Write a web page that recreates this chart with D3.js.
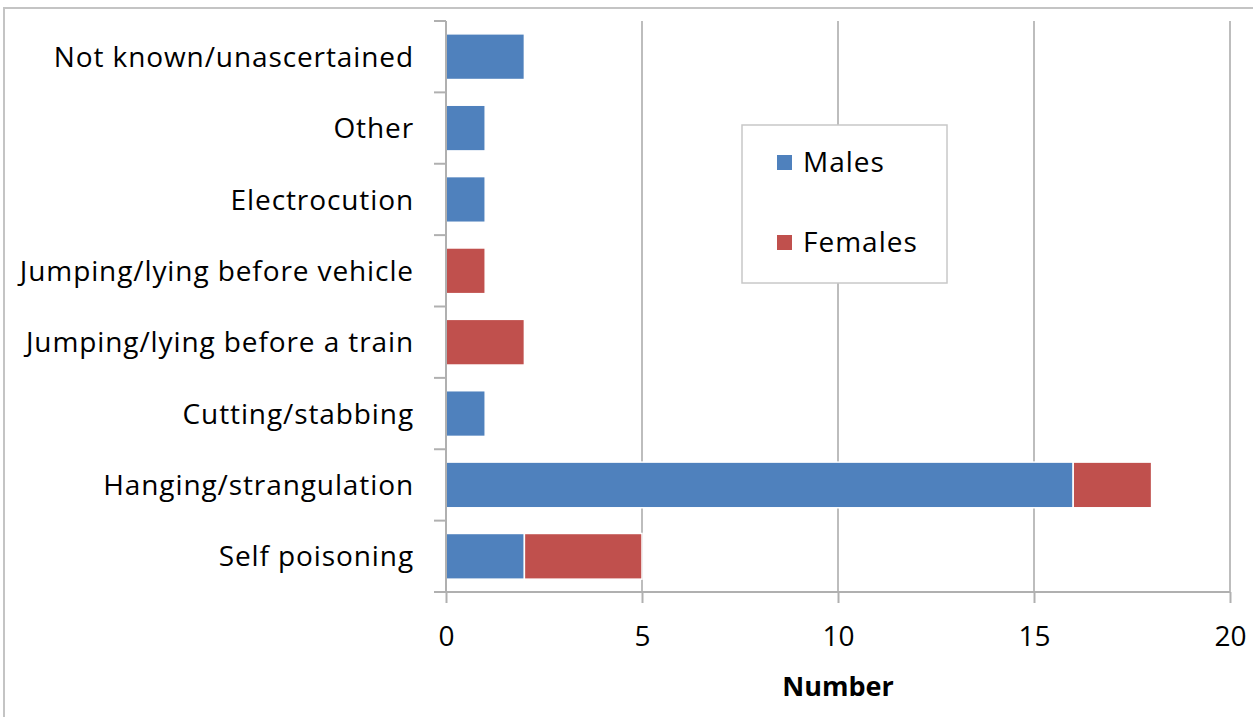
<!DOCTYPE html>
<meta charset="utf-8">
<head>
<style>
body { margin: 0; background: #fff; }
text { font-family: "Open Sans", sans-serif; fill: #000; }
.grid line { stroke: #bdbdbd; stroke-width: 2px; }
.axis path, .axis line { stroke: #b0b0b0; stroke-width: 2px; }
</style>
</head>
<body>
<svg></svg>
<script src="https://d3js.org/d3.v7.min.js"></script>
<script>
// data
var categories = ["Not known/unascertained", "Other", "Electrocution", "Jumping/lying before vehicle",
  "Jumping/lying before a train", "Cutting/stabbing", "Hanging/strangulation", "Self poisoning"];
var males   = [2, 1, 1, 0, 0, 1, 16, 2];
var females = [0, 0, 0, 1, 2, 0, 2, 3];
var seriesNames = ["Males", "Females"];
var seriesColors = ["#4f81bd", "#c0504d"];
var xTicks = [0, 5, 10, 15, 20];

var W = 1253, H = 717;
var margin = { top: 21, left: 446, right: 23, bottom: 125 };

var svg = d3.select('svg').attr('width', W).attr('height', H);

// outer chart frame
svg.append('rect')
  .attr('x', 4).attr('y', 8).attr('width', W + 10).attr('height', H + 10)
  .attr('fill', 'none').attr('stroke', '#c4c4c4').attr('stroke-width', 2);

var x = d3.scaleLinear().domain([0, 20]).range([margin.left, W - margin.right]);
var y = d3.scaleBand().domain(categories).range([margin.top, H - margin.bottom]).paddingInner(0.36).paddingOuter(0.18);

var rows = categories.map(function (c, i) { return { cat: c, Males: males[i], Females: females[i] }; });
var stacked = d3.stack().keys(seriesNames)(rows);

// gridlines
svg.append('g').attr('class', 'grid')
  .selectAll('line').data(xTicks.slice(1))
  .enter().append('line')
  .attr('x1', function (d) { return x(d); }).attr('x2', function (d) { return x(d); })
  .attr('y1', margin.top).attr('y2', H - margin.bottom);

// bars
svg.append('g').selectAll('g').data(stacked).enter().append('g')
  .attr('fill', function (d, i) { return seriesColors[i]; })
  .selectAll('rect').data(function (d) { return d.filter(function (s) { return s[1] > s[0]; }); })
  .enter().append('rect')
  .attr('x', function (d) { return x(d[0]); })
  .attr('y', function (d) { return y(d.data.cat); })
  .attr('width', function (d) { return x(d[1]) - x(d[0]); })
  .attr('height', y.bandwidth())
  .attr('stroke', '#fff').attr('stroke-width', 1.5);

// y axis (category separators)
var yAxis = svg.append('g').attr('class', 'axis').attr('transform', 'translate(' + margin.left + ',0)');
yAxis.append('line').attr('y1', margin.top).attr('y2', H - margin.bottom);
var bounds = categories.map(function (c) { return y(c) - y.step() * y.paddingInner() / 2; });
bounds.push(H - margin.bottom);
yAxis.selectAll('line.tk').data(bounds).enter().append('line').attr('class', 'tk')
  .attr('x1', -12).attr('x2', 0).attr('y1', function (d) { return d; }).attr('y2', function (d) { return d; });
yAxis.selectAll('text').data(categories).enter().append('text')
  .attr('x', -32).attr('y', function (d) { return y(d) + y.bandwidth() / 2; })
  .attr('dy', '0.36em').attr('text-anchor', 'end')
  .style('font-size', '28px').style('letter-spacing', '0.9px')
  .text(function (d) { return d; });

// x axis
var xAxis = svg.append('g').attr('class', 'axis')
  .attr('transform', 'translate(0,' + (H - margin.bottom) + ')')
  .call(d3.axisBottom(x).tickValues(xTicks).tickSize(11).tickSizeOuter(0).tickPadding(23));
xAxis.select('.domain').attr('d', 'M' + (margin.left - 12) + ',0H' + x(20));
xAxis.selectAll('text').style('font-size', '28px').style('font-family', '"Open Sans", sans-serif').attr('fill', '#000');

svg.append('text').attr('x', x(10)).attr('y', 696).attr('text-anchor', 'middle')
  .style('font-size', '27px').style('font-weight', 'bold').text('Number');

// legend
var lg = svg.append('g').attr('transform', 'translate(742,125)');
lg.append('rect').attr('width', 205).attr('height', 158).attr('fill', '#fff')
  .attr('stroke', '#c8c8c8').attr('stroke-width', 1.5);
var li = lg.selectAll('g').data(seriesNames).enter().append('g')
  .attr('transform', function (d, i) { return 'translate(35,' + (37 + i * 80) + ')'; });
li.append('rect').attr('y', -7).attr('width', 15).attr('height', 15)
  .attr('fill', function (d, i) { return seriesColors[i]; });
li.append('text').attr('x', 26).attr('dy', '0.36em')
  .style('font-size', '28px').style('letter-spacing', '1px').text(function (d) { return d; });
</script>
</body>
</html>
